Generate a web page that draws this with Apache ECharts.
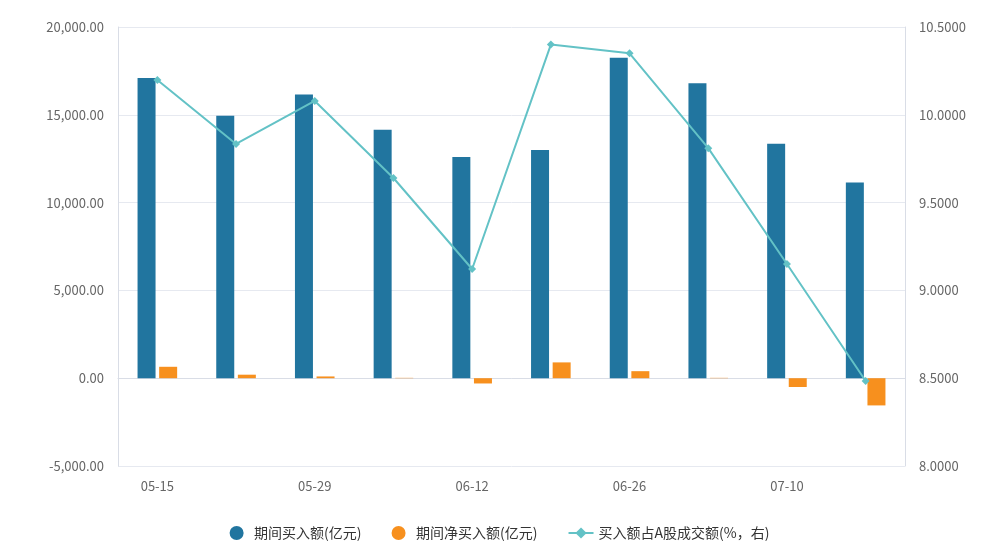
<!DOCTYPE html>
<html><head><meta charset="utf-8">
<script src="https://cdn.jsdelivr.net/npm/echarts@6/dist/echarts.min.js"></script>
<style>html,body{margin:0;padding:0;background:#fff}#c{width:999px;height:555px}</style>
</head><body><div id="c"></div>
<script>
const categories = ['05-15','05-22','05-29','06-05','06-12','06-19','06-26','07-03','07-10','07-17'];
const buyAmount = [17100,14950,16150,14150,12600,13000,18250,16800,13350,11150];
const netBuy = [650,200,100,20,-300,900,400,20,-500,-1550];
const buyRatio = [10.198,9.834,10.079,9.64,9.122,10.40,10.35,9.81,9.15,8.484];
const names = ['期间买入额(亿元)','期间净买入额(亿元)','买入额占A股成交额(%，右)'];
const chart = echarts.init(document.getElementById('c'));
const fmt2 = v => v.toLocaleString('en-US',{minimumFractionDigits:2,maximumFractionDigits:2});
const axLine = {show:true,lineStyle:{color:'#d9dde6'}};
chart.setOption({
  textStyle:{fontFamily:'Noto Sans CJK SC, sans-serif'},
  grid:{left:118,right:94,top:27,bottom:89},
  legend:{bottom:10,left:'center',itemGap:30,textStyle:{fontSize:14,color:'#333'},
    data:[{name:names[0],icon:'circle'},{name:names[1],icon:'circle'},{name:names[2]}]},
  xAxis:{type:'category',data:categories,axisLine:axLine,axisTick:{show:false},
    axisLabel:{interval:1,color:'#666',fontSize:13,margin:14}},
  yAxis:[
    {type:'value',min:-5000,max:20000,interval:5000,axisLine:axLine,
     axisLabel:{formatter:fmt2,color:'#666',fontSize:13,margin:14},
     splitLine:{lineStyle:{color:'#e6e9f0'}}},
    {type:'value',min:8,max:10.5,interval:0.5,axisLine:axLine,
     axisLabel:{formatter:v=>v.toFixed(4),color:'#666',fontSize:13,margin:14},
     splitLine:{show:false}}
  ],
  series:[
    {name:names[0],type:'bar',data:buyAmount,barWidth:18,barGap:'20%',itemStyle:{color:'#21759f'}},
    {name:names[1],type:'bar',data:netBuy,barWidth:18,itemStyle:{color:'#f7901e'}},
    {name:names[2],type:'line',yAxisIndex:1,data:buyRatio,symbol:'diamond',symbolSize:8,
     lineStyle:{color:'#63c2c6',width:2},itemStyle:{color:'#63c2c6'}}
  ]
});
</script></body></html>
